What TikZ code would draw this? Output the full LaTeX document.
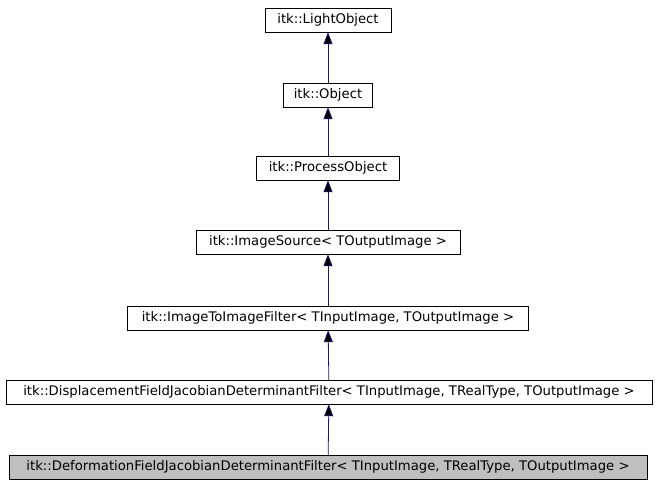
\documentclass[tikz,border=0pt]{standalone}
\usepackage{fontspec}
\setmainfont{DejaVu Sans}
\usetikzlibrary{arrows.meta}
\definecolor{edgeblue}{RGB}{25,25,112}
\begin{document}
\begin{tikzpicture}[x=1pt,y=1pt]
  \tikzset{cls/.style = {shape=rectangle,draw,minimum height=24pt,inner sep=1pt,font=\fontsize{13.2}{15}\selectfont}}
  \tikzset{cur/.style = {cls,fill=black!25}}
  \tikzset{inh/.style = {draw=edgeblue,line width=0.8pt,-{Triangle[length=12pt,width=9pt]}}}
  \useasboundingbox (0,0) rectangle (656,485);

	\node[cls,minimum width=126pt] (LO) at (328,465) {itk::LightObject};
	\node[cls,minimum width=89pt] (O) at (328,390) {itk::Object};
	\node[cls,minimum width=143pt] (PO) at (328,317) {itk::ProcessObject};
	\node[cls,minimum width=264pt] (IS) at (328,243) {itk::ImageSource< TOutputImage >};
	\node[cls,minimum width=401pt] (ITI) at (328,167) {itk::ImageToImageFilter< TInputImage, TOutputImage >};
	\node[cls,minimum width=646pt] (DIS) at (329,93) {itk::DisplacementFieldJacobianDeterminantFilter< TInputImage, TRealType, TOutputImage >};
	\node[cur,minimum width=638pt] (DEF) at (328,18) {itk::DeformationFieldJacobianDeterminantFilter< TInputImage, TRealType, TOutputImage >};

    \foreach \from/\to in {O/LO, PO/O, IS/PO, ITI/IS, DIS/ITI, DEF/DIS}
    \path[inh](\from) edge (\to);

\end{tikzpicture}
\end{document}
